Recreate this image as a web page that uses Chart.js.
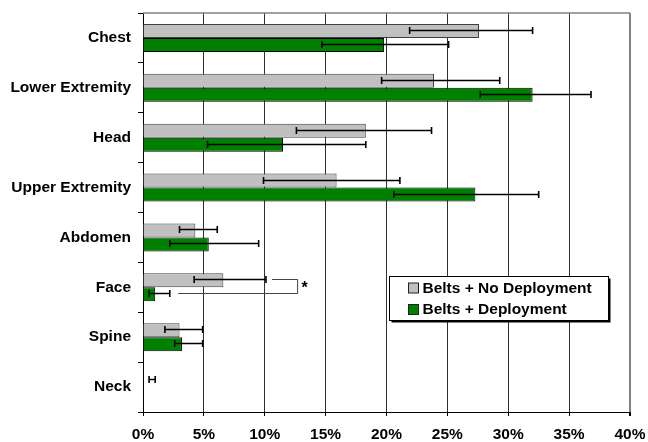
<!DOCTYPE html>
<html>
<head>
<meta charset="utf-8">
<script src="https://cdn.jsdelivr.net/npm/chart.js@4/dist/chart.umd.min.js"></script>
<style>
  html, body { margin: 0; padding: 0; background: #fff; }
  #wrap { width: 648px; height: 442px; }
</style>
</head>
<body>
<div id="wrap"><canvas id="c" width="648" height="442"></canvas></div>
<script>
// Injury body regions
const categories = ['Chest', 'Lower Extremity', 'Head', 'Upper Extremity', 'Abdomen', 'Face', 'Spine', 'Neck'];

// Share of injuries (%) per region
const noDeployment = [27.6, 23.9, 18.3, 15.9, 4.3, 6.6, 3.0, 0];
const deployment   = [19.8, 32.0, 11.5, 27.3, 5.4, 1.0, 3.2, 0];

// Confidence interval bounds (%)
const noDeploymentLow  = [21.9, 19.6, 12.6,  9.9, 3.0, 4.2, 1.8, 0.5];
const noDeploymentHigh = [32.0, 29.3, 23.7, 21.1, 6.1, 10.1, 4.9, 1.0];
const deploymentLow    = [14.7, 27.7,  5.3, 20.6, 2.2, 0.5, 2.6, null];
const deploymentHigh   = [25.1, 36.8, 18.3, 32.5, 9.5, 2.2, 4.9, null];

// Significance bracket on the Face pair (%)
const sigCategory = 'Face';
const sigUpperStart = 10.6;
const sigLowerStart = 2.9;
const sigEnd = 12.7;
const sigMark = '*';

const seriesNames = ['Belts + No Deployment', 'Belts + Deployment'];
const FONT = "'Liberation Sans', Arial, sans-serif";

const errorBars = {
  id: 'errorBars',
  afterDatasetsDraw(chart) {
    const ctx = chart.ctx;
    const xs = chart.scales.x;
    const bounds = [[noDeploymentLow, noDeploymentHigh], [deploymentLow, deploymentHigh]];
    ctx.save();
    ctx.strokeStyle = '#000';
    ctx.lineWidth = 1.6;
    bounds.forEach((b, di) => {
      const meta = chart.getDatasetMeta(di);
      b[0].forEach((lo, i) => {
        const hi = b[1][i];
        if (lo == null || hi == null) return;
        const y = Math.round(meta.data[i].y) - 0.5;
        const x1 = xs.getPixelForValue(lo), x2 = xs.getPixelForValue(hi);
        ctx.beginPath();
        ctx.moveTo(x1, y); ctx.lineTo(x2, y);
        ctx.moveTo(x1, y - 3.5); ctx.lineTo(x1, y + 3.5);
        ctx.moveTo(x2, y - 3.5); ctx.lineTo(x2, y + 3.5);
        ctx.stroke();
      });
    });

    // significance bracket
    const si = categories.indexOf(sigCategory);
    const yU = Math.round(chart.getDatasetMeta(0).data[si].y) - 0.5;
    const yL = Math.round(chart.getDatasetMeta(1).data[si].y) - 0.5;
    const xe = xs.getPixelForValue(sigEnd);
    ctx.lineWidth = 1;
    ctx.strokeStyle = '#444';
    ctx.beginPath();
    ctx.moveTo(xs.getPixelForValue(sigUpperStart), yU); ctx.lineTo(xe, yU);
    ctx.lineTo(xe, yL);
    ctx.lineTo(xs.getPixelForValue(sigLowerStart), yL);
    ctx.stroke();
    ctx.fillStyle = '#000';
    ctx.font = 'bold 16px ' + FONT;
    ctx.textAlign = 'left';
    ctx.textBaseline = 'middle';
    ctx.fillText(sigMark, xe + 4, (yU + yL) / 2 + 2);
    ctx.restore();
  }
};

const frameAndLegend = {
  id: 'frameAndLegend',
  beforeDatasetsDraw(chart) {
    const { ctx, chartArea: a } = chart;
    ctx.save();
    ctx.strokeStyle = '#808080';
    ctx.lineWidth = 1.5;
    ctx.beginPath();
    ctx.moveTo(a.left, a.top); ctx.lineTo(a.right, a.top);
    ctx.stroke();
    ctx.restore();
  },
  afterDraw(chart) {
    const ctx = chart.ctx;
    const bx = 389.5, by = 276.5, bw = 219, bh = 44;
    ctx.save();
    ctx.fillStyle = '#000';
    ctx.fillRect(bx + 2, by + 2, bw, bh);
    ctx.fillStyle = '#fff';
    ctx.fillRect(bx, by, bw, bh);
    ctx.strokeStyle = '#000';
    ctx.lineWidth = 1;
    ctx.strokeRect(bx, by, bw, bh);
    ctx.font = 'bold 15.5px ' + FONT;
    ctx.textBaseline = 'middle';
    ctx.textAlign = 'left';
    chart.data.datasets.forEach((ds, i) => {
      const cy = by + 12 + i * 21.5;
      ctx.fillStyle = ds.backgroundColor;
      ctx.fillRect(408.5, cy - 5.5, 10, 10);
      ctx.strokeStyle = '#222';
      ctx.strokeRect(408.5, cy - 5.5, 10, 10);
      ctx.fillStyle = '#000';
      ctx.fillText(ds.label, 422.5, cy);
    });
    ctx.restore();
  }
};

new Chart(document.getElementById('c'), {
  type: 'bar',
  data: {
    labels: categories,
    datasets: [
      { label: seriesNames[0], data: noDeployment, backgroundColor: '#C0C0C0', borderColor: '#404040', borderWidth: 1,
        categoryPercentage: 0.56, barPercentage: 1.0 },
      { label: seriesNames[1], data: deployment, backgroundColor: '#008000', borderColor: '#000', borderWidth: 1,
        categoryPercentage: 0.56, barPercentage: 1.0 }
    ]
  },
  options: {
    indexAxis: 'y',
    responsive: false,
    animation: false,
    layout: { padding: { top: 13, right: 18, left: 0, bottom: 0 } },
    plugins: { legend: { display: false }, tooltip: { enabled: false } },
    scales: {
      x: {
        min: 0, max: 40,
        ticks: { stepSize: 5, callback: v => v + '%', color: '#000', padding: 9,
                 font: { family: FONT, size: 15.5, weight: 'bold' } },
        grid: {
          color: c => (c.tick && c.tick.value === 40) ? '#808080' : '#303030',
          lineWidth: c => (c.tick && c.tick.value === 40) ? 2 : 1,
          tickColor: '#000', tickLength: 4
        },
        border: { display: true, color: '#000', width: 1 },
        afterFit: s => { s.height = 30; s.paddingLeft = 0; s.paddingRight = 0; }
      },
      y: {
        ticks: { color: '#000', padding: 7, font: { family: FONT, size: 15.5, weight: 'bold' } },
        grid: { drawOnChartArea: false, color: '#000', tickLength: 5, offset: true },
        border: { display: true, color: '#000', width: 1 },
        afterFit: s => { s.width = 143; s.paddingTop = 0; s.paddingBottom = 0; }
      }
    }
  },
  plugins: [frameAndLegend, errorBars]
});
</script>
</body>
</html>
